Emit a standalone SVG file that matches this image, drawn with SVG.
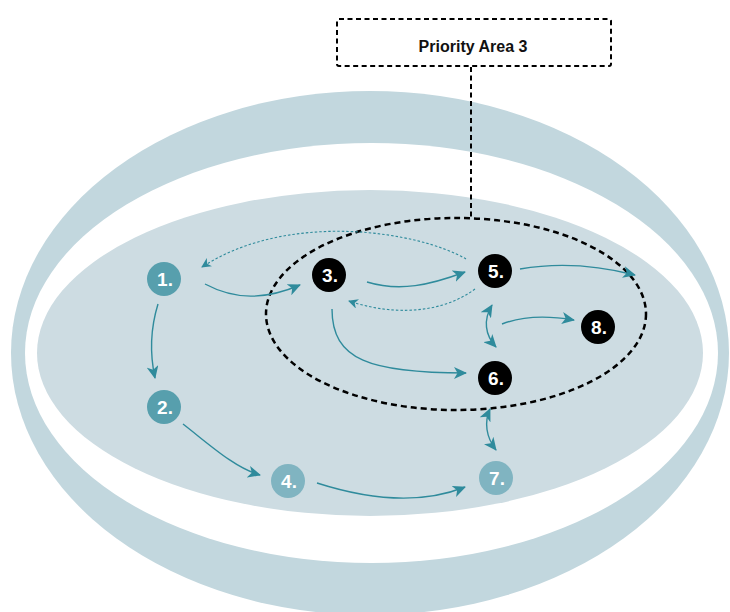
<svg xmlns="http://www.w3.org/2000/svg" width="730" height="612" viewBox="0 0 730 612">
<defs>
<style>
.conn{fill:none;stroke:#2f8b9c;stroke-width:1.4}
.dot{fill:none;stroke:#2f8b9c;stroke-width:1.1;stroke-dasharray:2.5 2}
.lbl{font-family:"Liberation Sans",Arial,sans-serif;font-weight:bold;font-size:19px;fill:#fff;text-anchor:middle}
.teal{fill:#579fad}
.light{fill:#80b4c1}
.blk{fill:#000}
</style>
<marker id="ah" markerUnits="userSpaceOnUse" markerWidth="14" markerHeight="12" viewBox="0 0 14 12" refX="12" refY="6" orient="auto-start-reverse">
<path d="M0,0 L13,6 L0,12 L3.5,6 Z" fill="#2f8b9c"/>
</marker>
<marker id="ahs" markerUnits="userSpaceOnUse" markerWidth="11" markerHeight="10" viewBox="0 0 11 10" refX="9" refY="5" orient="auto">
<path d="M0,0 L10,5 L0,10 L3,5 Z" fill="#2f8b9c"/>
</marker>
</defs>
<rect width="730" height="612" fill="#fff"/>
<g id="background">
<ellipse cx="370" cy="353" rx="359" ry="262" fill="#c2d7de"/>
<ellipse cx="371.5" cy="353" rx="346.5" ry="210" fill="#fff"/>
<ellipse cx="370" cy="353" rx="333" ry="163" fill="#cddce2"/>
</g>
<g id="priority-area">
<ellipse cx="456" cy="314" rx="190" ry="96" fill="none" stroke="#000" stroke-width="2.5" stroke-dasharray="6 4"/>
<rect x="337" y="19" width="274" height="47" rx="2" fill="#fff" stroke="#000" stroke-width="2" stroke-dasharray="5 3.5"/>
<text x="473" y="52" font-family="'Liberation Sans',Arial,sans-serif" font-weight="bold" font-size="16" text-anchor="middle" fill="#111">Priority Area 3</text>
<line x1="471" y1="67" x2="471" y2="218" stroke="#000" stroke-width="2" stroke-dasharray="5 3.5"/>
</g>
<g id="connectors">
<path class="conn" d="M205,284 C235,300 265,300 300,285" marker-end="url(#ah)"/>
<path class="conn" d="M158,304 C150,330 150,355 155,378" marker-end="url(#ah)"/>
<path class="dot" d="M466,259 C420,232 290,210 202,267" marker-end="url(#ahs)"/>
<path class="conn" d="M367,282 C400,292 430,285 465,272" marker-end="url(#ah)"/>
<path class="dot" d="M475,289 C440,315 390,315 349,301" marker-end="url(#ahs)"/>
<path class="conn" d="M520,269 C560,262 600,266 635,275" marker-end="url(#ah)"/>
<path class="conn" d="M332,309 C332,360 370,373 466,373" marker-end="url(#ah)"/>
<path class="conn" d="M492,305 C483,320 485,335 496,347" marker-start="url(#ah)" marker-end="url(#ah)"/>
<path class="conn" d="M502,324 C525,315 550,316 574,320" marker-end="url(#ah)"/>
<path class="conn" d="M490,409 C484,422 486,437 496,450" marker-start="url(#ah)" marker-end="url(#ah)"/>
<path class="conn" d="M183,424 C210,445 235,468 260,475" marker-end="url(#ah)"/>
<path class="conn" d="M317,483 C370,500 420,505 465,487" marker-end="url(#ah)"/>
</g>
<g id="node1"><circle class="teal" cx="164" cy="279" r="17"/><text class="lbl" x="165" y="286">1.</text></g>
<g id="node2"><circle class="teal" cx="164" cy="407" r="17"/><text class="lbl" x="165" y="414">2.</text></g>
<g id="node3"><circle class="blk" cx="329" cy="275" r="17"/><text class="lbl" x="330" y="282">3.</text></g>
<g id="node4"><circle class="light" cx="288" cy="481" r="17"/><text class="lbl" x="289" y="488">4.</text></g>
<g id="node5"><circle class="blk" cx="495" cy="271" r="17"/><text class="lbl" x="496" y="278">5.</text></g>
<g id="node6"><circle class="blk" cx="495" cy="378" r="17"/><text class="lbl" x="496" y="385">6.</text></g>
<g id="node7"><circle class="light" cx="496" cy="478" r="17"/><text class="lbl" x="497" y="485">7.</text></g>
<g id="node8"><circle class="blk" cx="598" cy="327" r="17"/><text class="lbl" x="599" y="334">8.</text></g>
</svg>
